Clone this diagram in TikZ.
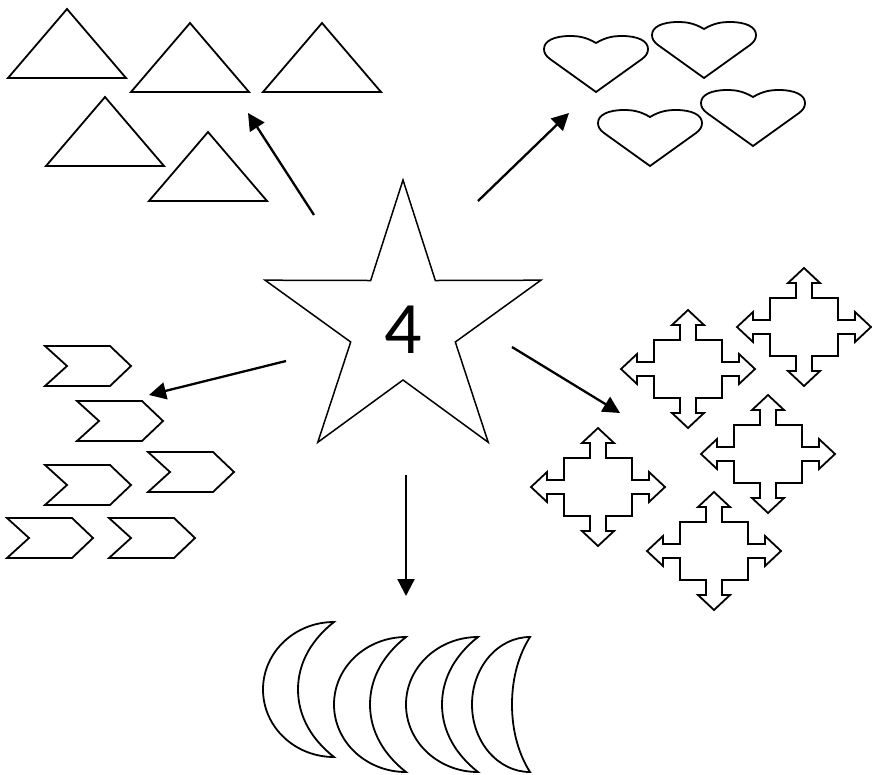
\documentclass[tikz,border=0pt]{standalone}
\usepackage{fontspec}
\setmainfont{Carlito}
\usetikzlibrary{arrows.meta}
\tikzset{outline/.style={line width=1.8pt,line join=miter},
  pointer/.style={line width=2.3pt,-{Triangle[length=17pt,width=17pt]}}}
\begin{document}
\begin{tikzpicture}[x=1pt,y=-1pt]
\useasboundingbox (0,0) rectangle (872,774);
%%%% star
\draw[outline,line width=1.5pt,shift={(403,325)}] (-90:145) -- (-54:55) -- (-18:145) -- (18:55) -- (54:145)
  -- (90:55) -- (126:145) -- (162:55) -- (198:145) -- (234:55) -- cycle;
\node[font=\fontsize{74}{80}\selectfont,inner sep=0pt] (four) at (403,330) {4};
%%%% triangles
\foreach \x/\y in {8/78,131/92,263/92,46/166,149/201}
\draw[outline] (\x,\y) -- ++(118,0) -- ++(-59,-69) -- cycle;
%%%% hearts
\foreach \x/\y in {596/43,704/29,650/117,753/97}
\draw[outline,shift={(\x,\y)}] (0,0) .. controls (-10,-6) and (-18,-7) .. (-26,-7)
  .. controls (-42,-7) and (-52,-2) .. (-52,6) .. controls (-52,10) and (-50,13) .. (-46,16)
  -- (0,49) -- (46,16) .. controls (50,13) and (52,10) .. (52,6)
  .. controls (52,-2) and (42,-7) .. (26,-7) .. controls (18,-7) and (10,-6) .. (0,0) -- cycle;
%%%% chevrons
\foreach \x/\y in {45/346,77/401,45/465,148/452,7/518,109/518}
\draw[outline] (\x,\y) -- ++(65,0) -- ++(21,20) -- ++(-21,20) -- ++(-65,0) -- ++(22,-20) -- cycle;
%%%% crosses
\foreach \x/\y in {688/369,804/327,768/454,598/487,714/551}
\draw[outline,shift={(\x,\y)}] (0,-59) -- (16,-44) -- (8,-44) -- (8,-29) -- (34,-29) -- (34,-7)
  -- (51,-7) -- (51,-15) -- (67,0) -- (51,15) -- (51,7) -- (34,7) -- (34,29) -- (8,29)
  -- (8,44) -- (16,44) -- (0,59) -- (-16,44) -- (-8,44) -- (-8,29) -- (-34,29) -- (-34,7)
  -- (-51,7) -- (-51,15) -- (-67,0) -- (-51,-15) -- (-51,-7) -- (-34,-7) -- (-34,-29)
  -- (-8,-29) -- (-8,-44) -- (-16,-44) -- cycle;
%%%% moons
\foreach \t/\s/\d/\e in {334/622/71/36,406/637/72/36,478/637/72/36,530/637/58/18}
\draw[outline,shift={(\t,\s)}] (0,0) .. controls ({-0.55*\d},0) and (-\d,30) .. (-\d,67.5)
  .. controls (-\d,105) and ({-0.55*\d},135) .. (0,135)
  .. controls ({-0.6*\e},118) and (-\e,95) .. (-\e,67.5)
  .. controls (-\e,40) and ({-0.6*\e},17) .. (0,0) -- cycle;
%%%% arrows
\coordinate (triS) at (314,215); \coordinate (triE) at (248,113);
\coordinate (hrtS) at (478,201); \coordinate (hrtE) at (569,113);
\coordinate (chvS) at (286,361); \coordinate (chvE) at (149,395);
\coordinate (crsS) at (512,347); \coordinate (crsE) at (620,413);
\coordinate (mnS) at (406,475); \coordinate (mnE) at (406,596);
\draw[pointer] (triS) -- (triE);
\draw[pointer] (hrtS) -- (hrtE);
\draw[pointer] (chvS) -- (chvE);
\draw[pointer] (crsS) -- (crsE);
\draw[pointer] (mnS) -- (mnE);
\end{tikzpicture}
\end{document}
